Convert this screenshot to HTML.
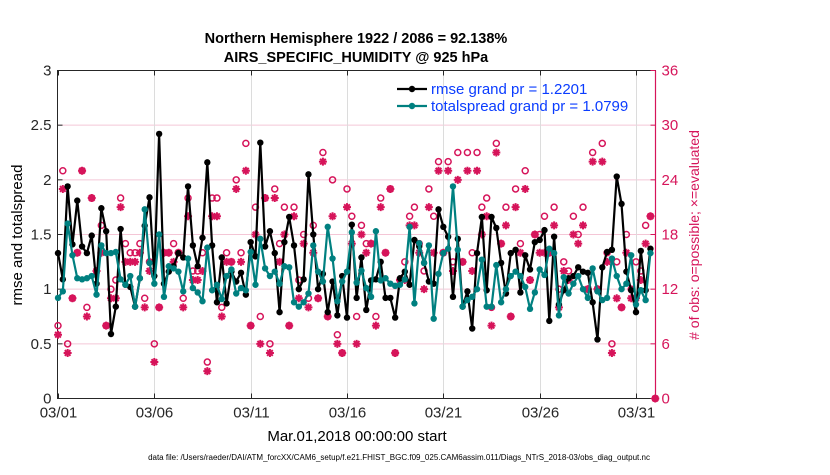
<!DOCTYPE html>
<html><head><meta charset="utf-8"><style>
body{margin:0;background:#fff;width:830px;height:470px;overflow:hidden}
svg{font-family:"Liberation Sans",Helvetica,Arial,sans-serif}
</style></head><body>
<svg id="chart" width="830" height="470" viewBox="0 0 830 470">
<rect x="0" y="0" width="830" height="470" fill="#fff"/>
<text x="356" y="43" text-anchor="middle" font-size="14.5" font-weight="bold">Northern Hemisphere 1922 / 2086 = 92.138%</text>
<text x="356" y="62" text-anchor="middle" font-size="14.5" font-weight="bold">AIRS_SPECIFIC_HUMIDITY @ 925 hPa</text>
<g id="grid"></g>
<g id="axes"></g>
<g id="obs"></g>
<g id="series"></g>
<g id="legend"></g>
<text transform="translate(22,235) rotate(-90)" text-anchor="middle" font-size="15">rmse and totalspread</text>
<text transform="translate(699,235) rotate(-90)" text-anchor="middle" font-size="14" fill="#d6145a"># of obs: o=possible; ×=evaluated</text>
<text x="357" y="441" text-anchor="middle" font-size="15">Mar.01,2018 00:00:00 start</text>
<text x="399" y="460" text-anchor="middle" font-size="8">data file: /Users/raeder/DAI/ATM_forcXX/CAM6_setup/f.e21.FHIST_BGC.f09_025.CAM6assim.011/Diags_NTrS_2018-03/obs_diag_output.nc</text>
</svg>
<script>
const rmse=[1.33,1.09,1.94,1.41,1.81,1.39,1.33,1.49,1.05,1.74,1.53,0.59,0.84,1.55,1.04,1.02,0.84,1.10,1.58,1.84,1.12,2.42,1.05,1.16,1.21,1.33,1.29,1.94,1.40,1.21,1.47,2.16,1.40,0.88,1.29,0.87,1.16,1.07,1.15,0.95,1.43,
1.30,2.34,1.39,1.53,1.33,0.79,1.43,1.66,1.40,1.00,1.09,2.05,1.50,1.00,1.14,0.79,1.07,0.76,1.12,0.74,1.59,0.92,1.29,0.81,1.08,1.09,1.25,0.92,0.92,0.74,1.10,1.16,1.04,1.45,1.39,1.24,1.07,1.05,1.73,1.57,1.48,0.93,1.46,
0.84,0.98,0.64,1.33,1.66,0.99,1.66,1.56,1.24,0.96,1.33,1.36,0.97,1.31,1.18,1.43,1.45,1.54,0.71,1.48,0.86,0.99,1.10,1.12,1.20,1.16,1.15,0.88,0.54,1.20,1.34,1.36,2.03,1.78,1.16,0.99,0.79,1.35,0.99,1.37];
const spread=[0.92,0.98,1.60,1.31,1.10,1.09,1.10,1.12,0.95,1.40,1.33,1.33,1.34,1.09,1.04,1.12,0.84,1.10,1.73,1.24,1.05,1.50,0.93,1.21,1.19,1.16,0.98,1.28,1.01,0.97,0.89,1.38,0.99,1.04,0.91,1.12,1.18,0.96,1.01,0.99,1.34,
1.04,1.46,1.19,1.12,1.16,1.05,1.21,1.20,0.88,0.84,0.88,0.96,1.40,1.16,1.07,1.57,1.28,0.89,1.07,1.16,1.52,1.06,1.17,1.01,0.93,1.53,1.08,1.10,1.05,1.03,1.04,1.09,1.57,0.87,1.42,1.24,1.40,0.73,1.14,1.33,1.37,1.94,1.36,
0.84,0.90,0.93,1.00,1.27,0.84,0.84,1.22,0.88,1.00,1.12,1.16,1.12,1.02,0.82,0.97,1.18,1.13,1.37,1.33,0.76,1.11,0.96,1.05,1.12,1.00,0.92,1.19,0.98,0.90,0.92,1.28,1.12,1.00,1.05,1.31,0.86,0.99,0.90,1.33];
const nPossible=[8,25,6,11,16,25,10,22,14,19,8,12,13,22,17,16,16,17,11,15,6,10,16,16,17,16,11,22,14,14,16,4,22,22,10,16,15,24,16,28,8,
21,9,22,6,23,17,21,8,21,13,18,11,19,11,27,9,24,7,5,23,20,9,19,17,17,9,22,16,23,5,13,15,20,21,17,14,23,20,26,16,26,15,27,
15,27,16,27,21,22,10,28,17,21,9,23,17,25,13,18,18,20,16,21,12,15,14,20,18,21,12,27,12,28,16,6,15,10,18,12,15,14,19,20,0];
const nEvaluated=[7,23,5,11,16,25,9,22,14,16,8,11,11,21,15,15,15,16,10,14,4,10,16,16,15,16,10,20,13,13,14,3,20,20,9,15,15,23,15,25,8,
18,6,22,5,22,15,18,8,20,11,17,10,16,11,26,9,20,6,5,21,17,6,18,16,17,8,21,16,23,5,13,13,19,19,16,12,21,16,25,16,25,14,24,
15,25,14,25,18,20,8,27,17,19,9,21,16,23,13,18,16,16,16,19,10,14,13,18,17,19,12,26,12,26,15,5,11,10,16,11,11,13,17,20,0];
const xTickLabels=["03/01","03/06","03/11","03/16","03/21","03/26","03/31"];
const xTickDays=[0,5,10,15,20,25,30];
const yLeftTicks=[0,0.5,1,1.5,2,2.5,3];
const yRightTicks=[0,6,12,18,24,30,36];

const NS="http://www.w3.org/2000/svg";
const L=57.5,R=655.5,T=70.5,B=398.5;
const dayPx=(636-58)/30;
const xDay=d=>58+d*dayPx;
const xIdx=i=>xDay(i*0.25);
const yL=v=>B-(v/3)*(B-T);
const yR=v=>B-(v/36)*(B-T);
function mk(tag,attrs,parent){const e=document.createElementNS(NS,tag);for(const k in attrs)e.setAttribute(k,attrs[k]);parent.appendChild(e);return e;}
const grid=document.getElementById('grid'),axes=document.getElementById('axes'),obs=document.getElementById('obs'),ser=document.getElementById('series'),leg=document.getElementById('legend');

yLeftTicks.forEach((v,i)=>{if(v>0&&v<3){const g=mk('line',{x1:L,x2:R,y1:yL(v),y2:yL(v),stroke:'#f4c6d6','stroke-width':1},grid);

}});
xTickDays.forEach((d,i)=>{const x=Math.round(xDay(d))+0.5;
if(i>0){const g=mk('line',{x1:x,x2:x,y1:T,y2:B,stroke:'#dcdcdc','stroke-width':1},grid);

}
mk('line',{x1:x,x2:x,y1:B,y2:B-5,stroke:'#262626'},axes);mk('line',{x1:x,x2:x,y1:T,y2:T+5,stroke:'#262626'},axes);
const t=mk('text',{x:x,y:B+19,'text-anchor':'middle','font-size':15,fill:'#262626'},axes);t.textContent=xTickLabels[i];

});
mk('rect',{x:L,y:T,width:R-L,height:B-T,fill:'none',stroke:'#262626','stroke-width':1},axes);
mk('line',{x1:R,x2:R,y1:T,y2:B,stroke:'#d6145a','stroke-width':1.2},axes);
yLeftTicks.forEach(v=>{const y=yL(v);mk('line',{x1:L,x2:L+5,y1:y,y2:y,stroke:'#262626'},axes);
const t=mk('text',{x:L-6,y:y+5,'text-anchor':'end','font-size':15,fill:'#262626'},axes);t.textContent=String(v);

});
yRightTicks.forEach(v=>{const y=yR(v);mk('line',{x1:R-5,x2:R,y1:y,y2:y,stroke:'#d6145a'},axes);
const t=mk('text',{x:R+6,y:y+5,'font-size':15,fill:'#d6145a'},axes);t.textContent=String(v);

});

function star(x,y,p,col){const r=4,d=r*0.707;const g=mk('path',{d:`M${x-r} ${y}H${x+r}M${x} ${y-r}V${y+r}M${x-d} ${y-d}L${x+d} ${y+d}M${x-d} ${y+d}L${x+d} ${y-d}`,stroke:col,'stroke-width':2,fill:'none'},p);return g;}
nPossible.forEach((v,i)=>{const c=mk('circle',{cx:xIdx(i),cy:yR(v),r:3,fill:'none',stroke:'#d6145a','stroke-width':1.5},obs);

});
nEvaluated.forEach((v,i)=>{const s=star(xIdx(i),yR(v),obs,'#d6145a');

});

function line(arr,col,name){const pts=arr.map((v,i)=>xIdx(i).toFixed(1)+','+yL(v).toFixed(1)).join(' ');
const pl=mk('polyline',{points:pts,fill:'none',stroke:col,'stroke-width':2.2,'stroke-linejoin':'round'},ser);


arr.forEach((v,i)=>{const c=mk('circle',{cx:xIdx(i),cy:yL(v),r:3.2,fill:col},ser);

});}
line(rmse,'#000','rmse');
line(spread,'#008080','totalspread');

const legItems=[["rmse grand pr = 1.2201",'#000',89],["totalspread grand pr = 1.0799",'#008080',106]];
legItems.forEach(it=>{const g=mk('g',{},leg);


mk('line',{x1:397,x2:427,y1:it[2],y2:it[2],stroke:it[1],'stroke-width':2.2},g);
mk('circle',{cx:412,cy:it[2],r:3.2,fill:it[1]},g);
const t=mk('text',{x:431,y:it[2]+5,'font-size':15,fill:'#0a3cff'},g);t.textContent=it[0];});
</script>
</body></html>
